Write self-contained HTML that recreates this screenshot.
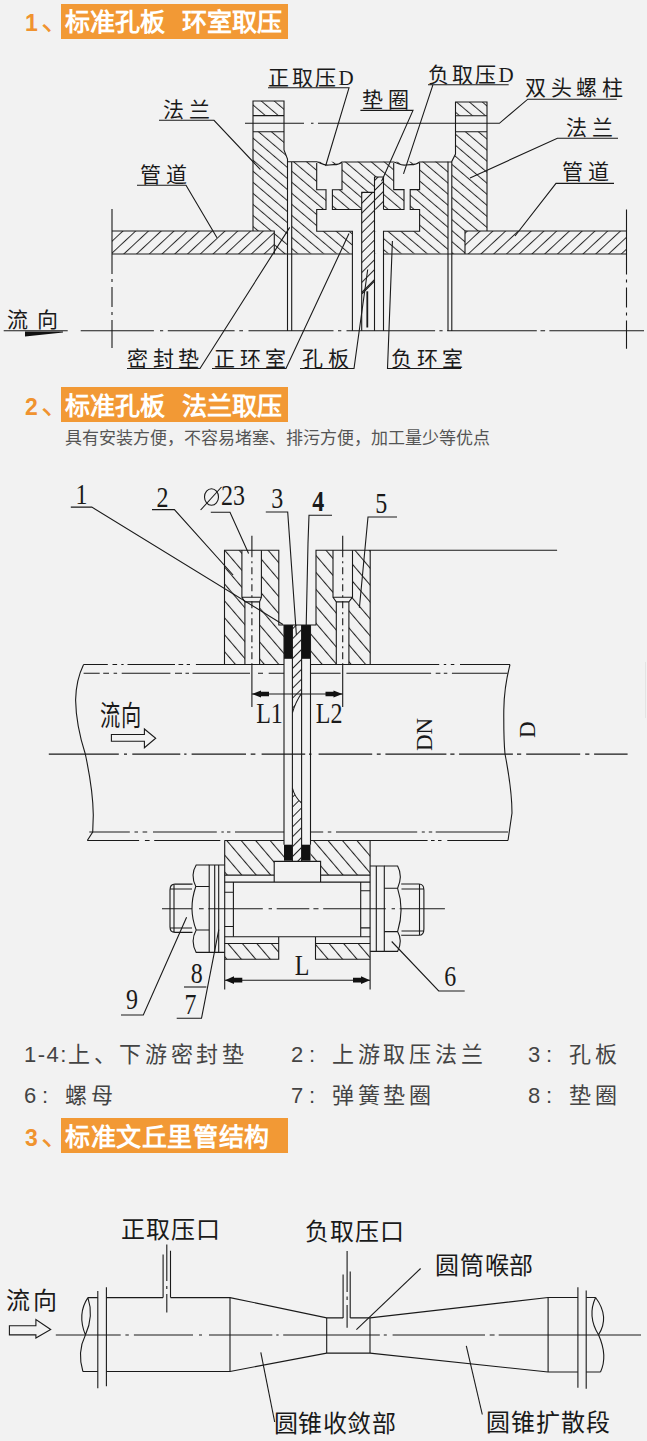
<!DOCTYPE html>
<html lang="zh-CN"><head><meta charset="utf-8">
<style>
html,body{margin:0;padding:0;background:#f2f2f2;}
body{width:647px;height:1441px;position:relative;overflow:hidden;font-family:"Liberation Sans",sans-serif;}
.num{position:absolute;left:25px;font-size:23px;line-height:30px;color:#f0932f;font-weight:bold;}
.box{position:absolute;left:61px;width:227px;height:35px;background:#f29935;}
.bt{position:absolute;font-size:25px;line-height:30px;color:#fff;font-weight:bold;white-space:nowrap;}
.sub{position:absolute;left:65px;top:427px;font-size:17px;line-height:24px;color:#555;white-space:nowrap;}
.c{margin-left:2px;letter-spacing:17px;}
.sp{position:absolute;font-size:22px;line-height:28px;color:#444;white-space:nowrap;letter-spacing:3.7px;}
svg{position:absolute;left:0;top:0;}
</style></head><body>
<!-- header 1 -->
<div class="num" style="top:6px">1<span style="font-size:29px;margin-left:3px;font-weight:normal">、</span></div>
<div class="box" style="top:4px"></div>
<div class="bt" style="left:65px;top:7px">标准孔板</div>
<div class="bt" style="left:182px;top:7px">环室取压</div>
<!-- header 2 -->
<div class="num" style="top:390px">2<span style="font-size:29px;margin-left:3px;font-weight:normal">、</span></div>
<div class="box" style="top:387px"></div>
<div class="bt" style="left:65px;top:391px">标准孔板</div>
<div class="bt" style="left:182px;top:391px">法兰取压</div>
<div class="sub">具有安装方便，不容易堵塞、排污方便，加工量少等优点</div>
<!-- specs -->
<div class="sp" style="left:24px;top:1041px"><span style="letter-spacing:1.5px">1-4:</span>上、下游密封垫</div>
<div class="sp" style="left:291px;top:1041px">2<span class="c">:</span>上游取压法兰</div>
<div class="sp" style="left:528px;top:1041px">3<span class="c">:</span>孔板</div>
<div class="sp" style="left:24px;top:1082px">6<span class="c">:</span>螺母</div>
<div class="sp" style="left:291px;top:1082px">7<span class="c">:</span>弹簧垫圈</div>
<div class="sp" style="left:528px;top:1082px">8<span class="c">:</span>垫圈</div>
<!-- header 3 -->
<div class="num" style="top:1121px">3<span style="font-size:29px;margin-left:3px;font-weight:normal">、</span></div>
<div class="box" style="top:1118px"></div>
<div class="bt" style="left:65px;top:1122px;letter-spacing:0.6px">标准文丘里管结构</div>
<!--SVG-->
<svg width="647" height="1441" viewBox="0 0 647 1441" style="position:absolute;left:0;top:0">
<defs>
<pattern id="hb" patternUnits="userSpaceOnUse" width="8.4" height="10" patternTransform="rotate(-49.5)"><rect width="8.4" height="10" fill="#f2f2f2"/><line x1="0.5" y1="0" x2="0.5" y2="10" stroke="#2a2a2a" stroke-width="1"/></pattern>
<pattern id="hf" patternUnits="userSpaceOnUse" width="8.7" height="10" patternTransform="rotate(47)"><rect width="8.7" height="10" fill="#f2f2f2"/><line x1="0.5" y1="0" x2="0.5" y2="10" stroke="#2a2a2a" stroke-width="1"/></pattern>
<pattern id="hb2" patternUnits="userSpaceOnUse" width="11" height="10" patternTransform="rotate(-40.5)"><rect width="11" height="10" fill="#f2f2f2"/><line x1="0.5" y1="0" x2="0.5" y2="10" stroke="#222" stroke-width="1.1"/></pattern>
<pattern id="hf2" patternUnits="userSpaceOnUse" width="7" height="7" patternTransform="rotate(45)"><rect width="7" height="7" fill="#f2f2f2"/><line x1="0.5" y1="0" x2="0.5" y2="7" stroke="#222" stroke-width="1"/></pattern>
</defs>
<g id="d1">
<!-- hatched fills -->
<rect x="112" y="231" width="162.3" height="23" fill="url(#hf)"/>
<rect x="465" y="231" width="161.5" height="23" fill="url(#hf)"/>
<polygon points="253,101 284,101 284,150 287.5,159 287.5,254 274.3,254 274.3,231 253,231" fill="url(#hb)"/>
<polygon points="455.5,102 487,102 487,231 465,231 465,254 452,254 452,161.5 455.5,154" fill="url(#hb)"/>
<rect x="253" y="115.6" width="31" height="16.1" fill="#f2f2f2"/>
<rect x="455.5" y="115.7" width="31.5" height="16.1" fill="#f2f2f2"/>
<rect x="291.7" y="161.7" width="156.3" height="91.8" fill="url(#hb)"/>
<g fill="#f2f2f2">
<rect x="316.7" y="164" width="25.3" height="25.8"/>
<rect x="326" y="189.8" width="6.4" height="19.7"/>
<rect x="393.7" y="164" width="25.9" height="25.6"/>
<rect x="404" y="189.6" width="6.2" height="19.9"/>
<rect x="316.7" y="209.5" width="102.9" height="21.8"/>
<rect x="352.4" y="231.3" width="31.1" height="22.2"/>
</g>
<rect x="361.7" y="192.4" width="12.8" height="100" fill="url(#hf2)"/>
<rect x="374.5" y="177" width="9" height="32.5" fill="url(#hf2)"/>
<polygon points="361.7,294 374.5,281 374.5,300 361.7,300" fill="#f2f2f2"/>
<!-- outlines -->
<g fill="none" stroke="#1a1a1a" stroke-width="1.1">
<path d="M112,231 H274.3 V254 M112,254 H352.4 M253,231 V101 H284 V150 L287.5,159 V331 M253,115.6 H284 M253,131.7 H284"/>
<path d="M291.7,161.7 V331 M287.5,161.7 H316.7 C321,163 324,166 329,165 C334,164 338,166 342,162 H393.7 C398,163 401,166 406,165 C411,164 415,166 419.6,162 H452"/>
<path d="M316.7,163 V189.8 H326 V209.5 H316.7 V231.3 H352.4 V331 M342,163 V189.8 H332.4 V209.5 H361.7"/>
<path d="M393.7,163 V189.6 H404 V209.5 H383.5 M419.6,163 V189.6 H410.2 V209.5 H419.6 V231.3 H383.5 V331"/>
<path d="M361.7,331 V192.4 H374.5 V331 M374.5,331 V177 H383.5 V209.5 M361.7,294 L374.5,281"/>
<path d="M487,231 V102 H455.5 V154 L451.8,161.5 V331 M448,161.7 V331 M455.5,115.7 H487 M455.5,131.8 H487 M465,231 H626.5 M383.5,254 H626.5 M465,231 V254"/>
<path d="M367.3,291.3 V327.5" stroke-width="1.8"/>
<!-- break lines -->
<path d="M112,209 V348" stroke-dasharray="65 5 3 5 20 5 3 5 60"/>
<path d="M626.5,209.6 V348.7" stroke-dasharray="65 5 3 5 20 5 3 5 60"/>
<!-- centerline -->
<path d="M3.7,330.8 H67.7" />
<path d="M80.7,330.8 H153.9 M160,330.8 H163.2 M167.8,330.8 H234.6 M239.3,330.8 H243 M248.5,330.8 H333.5 M338,330.8 H341.3 M346.5,330.8 H435.1 M439.4,330.8 H442.6 M447.2,330.8 H536.8 M540.5,330.8 H545.1 M549.4,330.8 H644"/>
<!-- bolt centerline -->
<path d="M245,123.3 H304 M311,123.3 H313.5 M318,123.3 H499.4 L527.8,99.2 H616.8"/>
<!-- leaders -->
<path d="M159,120.3 H214 L260.5,169.7"/>
<path d="M137,185.2 H186 L217,237.7"/>
<path d="M268,87.8 H349 L325.6,166"/>
<path d="M428,84.7 H508.7 M433,84.7 L403.5,173.9"/>
<path d="M360.4,110.4 H413 L381.6,181.2"/>
<path d="M618,138.2 H557.4 L470,178"/>
<path d="M614,183.4 H556 L515,236"/>
<path d="M127,368.5 H200 L289.7,227.4"/>
<path d="M212,368.5 H286 L349,233.6"/>
<path d="M300,368.5 H354 L367.7,269.5"/>
<path d="M461,368.5 H387.5 L392.4,241"/>
</g>
<polygon points="25,331.5 63,331.5 63,332.5 25,336.5" fill="#111"/>
<g font-family="Liberation Serif, serif" font-size="21" fill="#1a1a1a" letter-spacing="4.5" font-weight="300">
<text x="163" y="117">法兰</text>
<text x="140" y="182">管道</text>
<text x="268" y="85" letter-spacing="2.5">正取压D</text>
<text x="428" y="82" letter-spacing="2.5">负取压D</text>
<text x="362" y="107">垫圈</text>
<text x="525" y="95">双头螺柱</text>
<text x="566" y="135">法兰</text>
<text x="562" y="179">管道</text>
<text x="7" y="327" letter-spacing="8.5">流向</text>
<text x="127" y="366">密封垫</text>
<text x="214" y="366">正环室</text>
<text x="302" y="366">孔板</text>
<text x="391" y="366">负环室</text>
</g>
</g>
<g id="d2">
<!-- hatched fills top flanges -->
<polygon points="224.5,550.3 278.8,550.3 278.8,625 284,625 284,664.5 224.5,664.5" fill="url(#hb2)"/>
<polygon points="316,550.3 370.2,550.3 370.2,664.5 310.5,664.5 310.5,625 316,625" fill="url(#hb2)"/>
<g fill="#f2f2f2">
<rect x="241.9" y="550.3" width="19.5" height="47"/>
<rect x="244.9" y="597" width="14.7" height="67.5"/>
<rect x="333" y="550.3" width="19.5" height="47"/>
<rect x="336.3" y="597" width="12.6" height="67.5"/>
</g>
<!-- plate -->
<rect x="292.4" y="625" width="9.2" height="236.4" fill="url(#hf2)"/>
<path d="M292.4,712.8 C295,704 299,697 301.6,693.3 V803 C298,800 294,795 292.4,788 Z" fill="#f2f2f2"/>
<!-- bottom flanges -->
<polygon points="224.7,840.5 284,840.5 284,861.4 274.2,861.4 274.2,875.1 224.7,875.1" fill="url(#hb2)"/>
<polygon points="310.5,840.5 370.1,840.5 370.1,875.1 320.6,875.1 320.6,861.4 310.5,861.4" fill="url(#hb2)"/>
<rect x="224.7" y="943.5" width="54" height="15.8" fill="url(#hb2)"/>
<rect x="315.5" y="943.5" width="54.6" height="15.8" fill="url(#hb2)"/>
<!-- gaskets -->
<g fill="#111">
<rect x="284" y="625" width="8.4" height="33.8"/>
<rect x="301.6" y="625" width="8.9" height="33.8"/>
<rect x="284" y="844.7" width="8.4" height="16"/>
<rect x="301.6" y="844.7" width="8.9" height="16"/>
</g>
<g fill="none" stroke="#1a1a1a" stroke-width="1.1">
<!-- top flange outlines -->
<path d="M224.5,664.5 V550.3 H278.8 V625 H316 V550.3 H557.1 M370.2,550.3 V664.5 M224.5,664.5 H284 M310.5,664.5 H370.2"/>
<path d="M241.9,550.3 V597.2 H261.4 V550.3 M241.9,597.2 L244.9,601.9 V664.5 M261.4,597.2 L259.6,601.9 V664.5 M244.9,601.9 H259.6"/>
<path d="M333,550.3 V597.2 H352.5 V550.3 M333,597.2 L336.3,601.9 V664.5 M352.5,597.2 L348.9,601.9 V664.5 M336.3,601.9 H348.9"/>
<path d="M251.9,550.3 V664.5 M342.7,550.3 V664.5" stroke-dasharray="7 4 2 4"/>
<path d="M251.9,535.8 V550.3 M342.7,535.8 V550.3 M251.9,664.5 V707 M342.7,664.5 V707"/>
<!-- plate lines -->
<path d="M284,625 V844.7 M292.4,625 V861.4 M301.6,625 V861.4 M310.5,625 V844.7"/>
<path d="M292.4,712.8 C295,704 299,697 301.6,693.3 M292.4,788 C294,795 298,800 301.6,803"/>
<!-- pipe lines -->
<path d="M83.6,664.5 H107.8 M112.5,664.5 H117.1 M121.3,664.5 H123.6 M127.5,664.5 H175 M178.5,664.5 H183.2 M186.7,664.5 H190 M195.9,664.5 H251.3 M258,664.5 H263 M268.7,664.5 H284 M310.5,664.5 H439.2 M443.8,664.5 H446.2 M450.8,664.5 H454.3 M460,664.5 H510 M83.6,673.2 H99.7 M103.2,673.2 H109 M113.6,673.2 H117.1 M121.7,673.2 H170.4 M175,673.2 H182 M185.5,673.2 H189 M192.5,673.2 H250 M258,673.2 H263 M268.7,673.2 H284 M310.5,673.2 H340.6 M346.4,673.2 H431.1 M435.7,673.2 H440.4 M443.8,673.2 H447.3 M451.9,673.2 H507.6 M89.3,832 H129.8 M134.5,832 H138 M142.6,832 H147.2 M153,832 H216.8 M221.4,832 H223.8 M227,832 H230.4 M235,832 H284 M310.5,832 H323.2 M327.8,832 H331.3 M336,832 H417.2 M421.8,832 H424.8 M428.8,832 H432.2 M435.7,832 H508 M87.3,840.5 H139.1 M144.9,840.5 H149.6 M154.2,840.5 H220.3 M224.7,840.5 H284 M310.5,840.5 H427.6 M431,840.5 H434.6 M438,840.5 H441.5 M447.3,840.5 H508"/>
<path d="M83.6,664.5 Q76,680 75.6,700 Q76,725 85.3,754 Q93,790 93.3,815 L92.7,832 L87.3,840.5"/>
<path d="M510,664.5 Q504,688 503.8,710 Q503.6,740 505,754 Q512,790 512,813 L508,840.5"/>
<path d="M48.8,754.1 H118.8 M124,754.1 H127 M132.3,754.1 H180.3 M184.2,754.1 H186.5 M191.6,754.1 H246 M250.7,754.1 H255.4 M261.6,754.1 H305.2 M309,754.1 H311.5 M318.6,754.1 H372.2 M376.8,754.1 H380.7 M385.4,754.1 H446.4 M450.3,754.1 H454.5 M459.1,754.1 H512.9 M517,754.1 H521.2 M526.2,754.1 H580.2 M585.2,754.1 H589.4 M594.1,754.1 H627.6"/>
<!-- bottom flange outlines -->
<path d="M224.7,840.5 H284 M310.5,840.5 H370.1 M224.7,840.5 V989.6 M370.1,840.5 V989.6"/>
<path d="M274.2,882.1 V861.4 H320.6 V882.1 M224.7,875.1 H274.2 M320.6,875.1 H370.1 M224.7,882.1 H370.1"/>
<path d="M233.4,882.1 V936.7 M360.7,882.1 V936.7 M224.7,892.2 H233.4 M224.7,926.5 H233.4 M360.7,890.7 H370.1 M360.7,927.9 H370.1"/>
<path d="M224.7,936.7 H370.1 M224.7,959.3 H278.7 V936.7 M224.7,943.5 H278.7 M315.5,936.7 V959.3 H370.1 M315.5,943.5 H370.1"/>
<!-- washers and nuts left -->
<path d="M224.7,865 H209.2 V952.4 H224.7 M214.7,865 V952.4 M218.7,865 V952.4"/>
<path d="M209.2,865 H196.2 Q190,875 195.8,886.5 Q188,909 196.2,930 Q190,941 196.2,952.4 H209.2 M195.8,886.5 H209.2 M196.2,930 H209.2"/>
<path d="M192.5,884.1 H175 Q170,884.1 170,890 V927 Q170,932.4 175,932.4 H192.5 M174,884.1 V932.4 M170.5,889 H192 M170.5,928 H192"/>
<!-- washers and nuts right -->
<path d="M370.1,866 H384.3 V951.4 H370.1 M376.3,866 V951.4"/>
<path d="M384.3,866 H397.6 Q403,876 397.6,888.3 Q404.5,909 397.6,931.6 Q403,941 397.6,951.4 H384.3 M384.3,888.3 H397.6 M384.3,931.6 H397.6"/>
<path d="M401.2,884 H419 Q423.9,884 423.9,890 V929 Q423.9,935.3 419,935.3 H401.2 M419.5,884 V935.3 M401.5,889 H423.5 M401.5,931 H423.5"/>
<path d="M162,908.8 H192.1 M199,908.8 H203.7 M208.3,908.8 H262.8 M268.6,908.8 H272 M276.7,908.8 H309.3 M313.4,908.8 H318.5 M323.2,908.8 H385.8 M391.6,908.8 H395 M399.7,908.8 H444.9"/>
<!-- L dimension -->
<path d="M225,980.2 H370"/>
<!-- L1 L2 -->
<path d="M251.9,694 H342.7"/>
<!-- flow arrow -->
<path d="M111.4,734.5 H144.4 V729 L155.7,738.2 L144.4,747.7 V741.3 H111.4 Z"/>
<!-- leaders -->
<path d="M70.8,507.1 H91.8 L283,624.5"/>
<path d="M152,509.6 H174.4 L233.1,575"/>
<path d="M210.8,512.3 H230 L248.6,553.5"/>
<path d="M265.8,512 H287.7 L296.4,635"/>
<path d="M332,515.2 H309 L308,543 L306.2,625.8"/>
<path d="M397,517 H368 L359.4,607.8"/>
<path d="M121,1015 H143.3 L186.6,917.3"/>
<path d="M184,987 H206.4"/>
<path d="M176.7,1018.3 H201.5 L218.8,929.7"/>
<path d="M464.7,991 H438.7 L391.7,941.5"/>
</g>
<g fill="#111">
<polygon points="225,980.2 234,976.3 234,977.8 242.3,977.8 242.3,982.6 234,982.6 234,984.1"/>
<polygon points="370,980.2 361,976.3 361,977.8 353,977.8 353,982.6 361,982.6 361,984.1"/>
<polygon points="252,694 261,690.5 261,691.8 269,691.8 269,696.2 261,696.2 261,697.5"/>
<polygon points="342.5,694 333.5,690.5 333.5,691.8 325.5,691.8 325.5,696.2 333.5,696.2 333.5,697.5"/>
</g>
<g font-family="Liberation Serif, serif" fill="#1a1a1a" font-weight="300">
<text transform="translate(99.5,725.5) scale(0.92,1.3)" font-size="22" letter-spacing="1">流向</text>
</g>
<g font-family="Liberation Serif, serif" fill="#1a1a1a" font-size="30">
<text transform="translate(75.5,504.2) scale(0.8,1)">1</text>
<text transform="translate(156.5,507) scale(0.8,1)">2</text>
<ellipse cx="211.5" cy="497" rx="7" ry="8.3" fill="none" stroke="#1a1a1a" stroke-width="1.1"/>
<path d="M200.6,510 L221.5,487" stroke="#1a1a1a" stroke-width="1.1"/>
<text transform="translate(221,505) scale(0.8,1)">23</text>
<text transform="translate(271.3,508.3) scale(0.8,1)">3</text>
<text transform="translate(312.3,511.3) scale(0.8,1)" font-weight="bold">4</text>
<text transform="translate(375.3,513) scale(0.8,1)">5</text>
<text transform="translate(256.2,722.5) scale(0.8,1)">L1</text>
<text transform="translate(315.8,722.5) scale(0.8,1)">L2</text>
<text transform="translate(294.8,975.2) scale(0.8,1)">L</text>
<text transform="translate(444.3,986) scale(0.8,1)">6</text>
<text transform="translate(190.8,983) scale(0.8,1)">8</text>
<text transform="translate(184.6,1013.9) scale(0.8,1)">7</text>
<text transform="translate(126,1009) scale(0.8,1)">9</text>
<text transform="translate(431.6,751) rotate(-90)" font-size="23">DN</text>
<text transform="translate(534.8,738) rotate(-90)" font-size="23">D</text>
</g>
</g>
<path d="M645.5,662 V718" stroke="#e4e4e4" stroke-width="1"/>
<g id="d3">
<g fill="none" stroke="#1a1a1a" stroke-width="1.1">
<path d="M55.8,1335 H120.7 M125.4,1335 H128.8 M133.9,1335 H193 M199,1335 H202 M209,1335 H272.3 M276.3,1335 H278.6 M283.2,1335 H379.8 M383.8,1335 H386.8 M392.6,1335 H485 M489.7,1335 H494.6 M498.7,1335 H641"/>
<path d="M97.8,1291 V1388.3 M106.4,1287.3 V1386.3"/>
<path d="M87.9,1297.6 H97.8 M106.4,1297.6 H163.1 M170.5,1297.6 H230 L326.7,1317.9 H343.1 M350.2,1317.9 H370 L548.1,1297.5 H577.9 M586.2,1297.5 H595.6"/>
<path d="M82.9,1371.5 H97.8 M106.4,1371.5 H230 L326.7,1353.1 H370 L548.1,1372 H577.9 M586.2,1372 H600.5"/>
<path d="M230,1297.6 V1371.5 M326.7,1317.9 V1353.1 M370,1317.9 V1353.1 M548.1,1297.5 V1372 M577.9,1287.3 V1387.8 M586.2,1290.6 V1388.8"/>
<path d="M163.1,1254.5 V1297.6 M170.5,1250.7 V1297.6 M166.8,1244.6 V1281 M166.8,1286 V1289 M166.8,1294 V1312.6"/>
<path d="M343.1,1274.6 V1317.9 M350.2,1271.5 V1317.9 M347.1,1251.1 V1291.9 M347.1,1296.5 V1300 M347.1,1305 V1327.8"/>
<path d="M87.9,1297.6 Q77,1314 85.4,1334.9 Q94,1316 87.9,1297.6 M85.4,1334.9 Q77,1352 82.9,1371.5"/>
<path d="M595.6,1297.5 Q587,1316 598.5,1334.8 Q610,1317 595.6,1297.5 M598.5,1334.8 Q608,1356 600.5,1372"/>
<path d="M9.4,1325.7 H35.9 V1319.5 L50.7,1329.5 L35.9,1338 V1334.9 H9.4 Z"/>
<path d="M274.7,1422 L260.8,1352.4"/>
<path d="M420.6,1268.5 L356.4,1329.6"/>
<path d="M482.3,1414.5 L466.3,1345.9"/>
</g>
<g font-family="Liberation Serif, serif" fill="#1a1a1a" font-size="24" font-weight="300">
<text x="6" y="1309" letter-spacing="3">流向</text>
<text x="121" y="1238" letter-spacing="1">正取压口</text>
<text x="304.5" y="1240" letter-spacing="1">负取压口</text>
<text x="435" y="1274" letter-spacing="0.8">圆筒喉部</text>
<text x="273.5" y="1432" letter-spacing="0.5">圆锥收敛部</text>
<text x="486" y="1431" letter-spacing="1">圆锥扩散段</text>
</g>
</g>


</svg>

</body></html>
